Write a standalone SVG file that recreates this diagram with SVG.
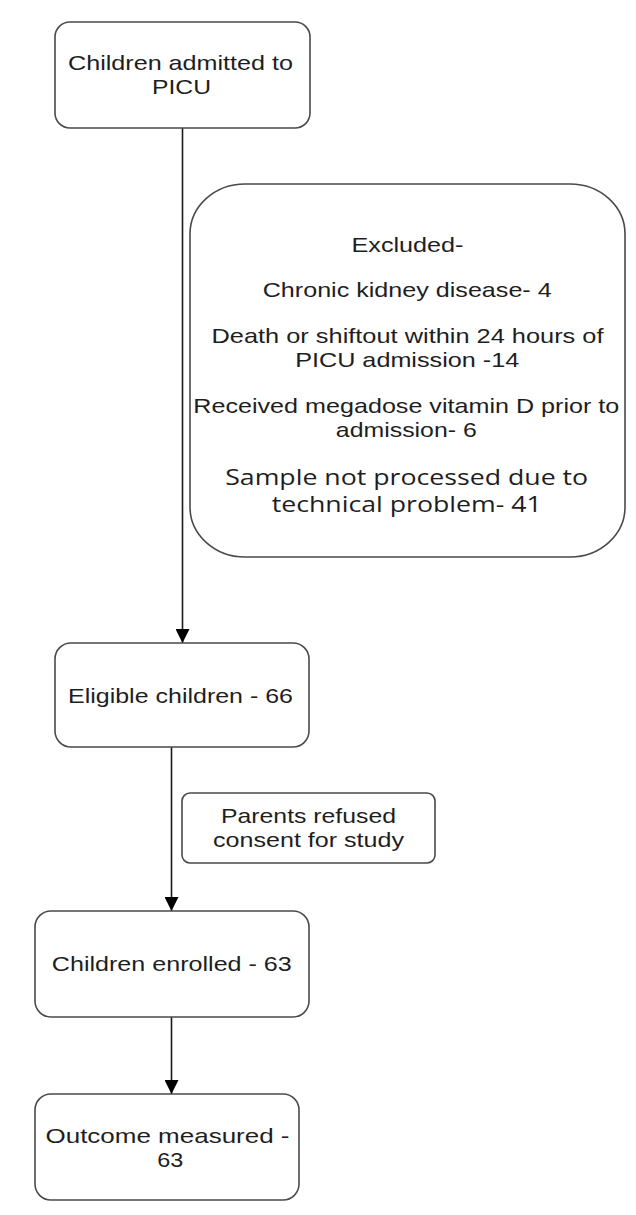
<svg xmlns="http://www.w3.org/2000/svg" width="636" height="1215" viewBox="0 0 636 1215">
<style>
.box{fill:#fff;stroke:#4a4a4a;stroke-width:1.6}
.t{font-family:"Liberation Sans",Arial,sans-serif;font-size:21px;fill:#1e1e1e;text-anchor:middle}
.t2{font-family:"Open Sans","Noto Sans",sans-serif;font-size:21px;fill:#1e1e1e;text-anchor:middle}
.c{stroke:#1a1a1a;stroke-width:1.6;fill:none}
</style>
<defs>
<marker id="ah" markerUnits="userSpaceOnUse" markerWidth="14" markerHeight="14" viewBox="0 0 14 14" refX="14" refY="7" orient="auto">
<path d="M0,0 L14,7 L0,14 Z" fill="#000"/>
</marker>
</defs>
<rect width="636" height="1215" fill="#fff"/>
<g id="connectors">
<line class="c" x1="182.5" y1="128" x2="182.5" y2="643" marker-end="url(#ah)"/>
<line class="c" x1="171.5" y1="747" x2="171.5" y2="911" marker-end="url(#ah)"/>
<line class="c" x1="171.5" y1="1017" x2="171.5" y2="1094" marker-end="url(#ah)"/>
</g>
<g id="admitted">
<rect class="box" x="55" y="22" width="255" height="106" rx="15"/>
<text class="t" x="180.5" y="70" textLength="225" lengthAdjust="spacingAndGlyphs">Children admitted to</text>
<text class="t" x="181.5" y="94" textLength="59" lengthAdjust="spacingAndGlyphs">PICU</text>
</g>
<g id="excluded">
<rect class="box" x="190" y="184" width="435" height="373" rx="55" ry="50"/>
<text class="t" x="407.5" y="252" textLength="112" lengthAdjust="spacingAndGlyphs">Excluded-</text>
<text class="t" x="407.2" y="297" textLength="289" lengthAdjust="spacingAndGlyphs">Chronic kidney disease- 4</text>
<text class="t" x="407.5" y="343" textLength="392" lengthAdjust="spacingAndGlyphs">Death or shiftout within 24 hours of</text>
<text class="t" x="407.2" y="367" textLength="224" lengthAdjust="spacingAndGlyphs">PICU admission -14</text>
<text class="t" x="406.3" y="413" textLength="426" lengthAdjust="spacingAndGlyphs">Received megadose vitamin D prior to</text>
<text class="t" x="406.3" y="437" textLength="141" lengthAdjust="spacingAndGlyphs">admission- 6</text>
<text class="t2" x="406.7" y="485" textLength="363" lengthAdjust="spacingAndGlyphs">Sample not processed due to</text>
<text class="t2" x="406.7" y="512" textLength="270" lengthAdjust="spacingAndGlyphs">technical problem- 41</text>
</g>
<g id="eligible">
<rect class="box" x="55" y="643" width="254" height="104" rx="16"/>
<text class="t" x="180.5" y="703" textLength="225" lengthAdjust="spacingAndGlyphs">Eligible children - 66</text>
</g>
<g id="refused">
<rect class="box" x="182" y="793" width="253" height="70" rx="8"/>
<text class="t" x="308.5" y="823" textLength="175" lengthAdjust="spacingAndGlyphs">Parents refused</text>
<text class="t" x="308.5" y="847" textLength="191" lengthAdjust="spacingAndGlyphs">consent for study</text>
</g>
<g id="enrolled">
<rect class="box" x="35" y="911" width="274" height="106" rx="16"/>
<text class="t" x="171.8" y="971" textLength="240" lengthAdjust="spacingAndGlyphs">Children enrolled - 63</text>
</g>
<g id="outcome">
<rect class="box" x="35" y="1094" width="264" height="106" rx="16"/>
<text class="t" x="167.5" y="1143" textLength="244" lengthAdjust="spacingAndGlyphs">Outcome measured -</text>
<text class="t" x="170.3" y="1167" textLength="26" lengthAdjust="spacingAndGlyphs">63</text>
</g>
</svg>
